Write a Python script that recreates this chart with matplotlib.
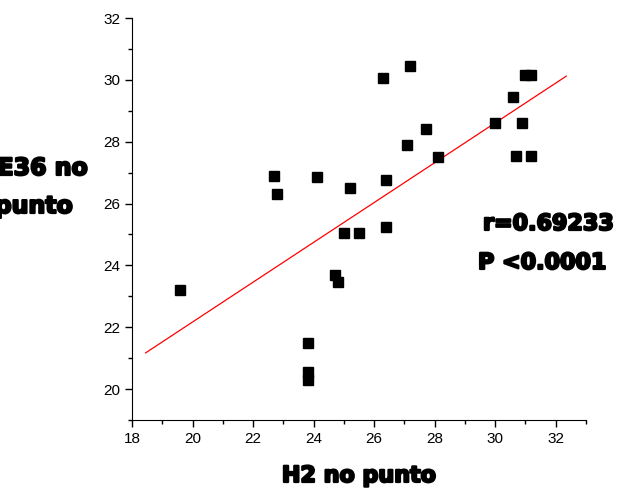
import numpy as np
import matplotlib
matplotlib.use("Agg")
import matplotlib.pyplot as plt
import matplotlib.patheffects as pe
from matplotlib.ticker import MultipleLocator

# data
h2 = [19.6, 22.7, 22.8, 24.1, 25.2, 26.4, 25.0, 25.5, 26.4, 26.3, 27.2,
      27.1, 27.7, 28.1, 30.0, 30.6, 30.9, 30.7, 31.2, 31.0, 31.2,
      24.7, 24.8, 23.8, 23.8, 23.8]
e36 = [23.2, 26.9, 26.3, 26.85, 26.5, 26.75, 25.05, 25.05, 25.25, 30.05, 30.45,
       27.9, 28.4, 27.5, 28.6, 29.45, 28.6, 27.55, 27.55, 30.15, 30.15,
       23.7, 23.45, 21.5, 20.55, 20.3]
fit_x = [18.45, 32.35]
fit_y = [21.17, 30.12]
r_text = "r=0.69233"
p_text = "P <0.0001"

# fake an "Arial Black" look: bold DejaVu with a stroke around it
heavy = dict(fontweight="bold", family="DejaVu Sans",
             path_effects=[pe.withStroke(linewidth=1.6, foreground="black")])


def main():
    fig = plt.figure(figsize=(6.19, 4.91), dpi=100)
    ax = fig.add_axes([0.2132, 0.1446, 0.7334, 0.8187])

    ax.plot(h2, e36, "s", color="black", markersize=6.5, zorder=3)
    ax.plot(fit_x, fit_y, color="red", linewidth=0.9)

    ax.set_xlim(18, 33)
    ax.set_ylim(19, 32)
    ax.xaxis.set_major_locator(MultipleLocator(2))
    ax.xaxis.set_minor_locator(MultipleLocator(1))
    ax.yaxis.set_major_locator(MultipleLocator(2))
    ax.yaxis.set_minor_locator(MultipleLocator(1))
    ax.spines["top"].set_visible(False)
    ax.spines["right"].set_visible(False)
    ax.tick_params(which="major", direction="out", length=5, width=1,
                   labelsize=11)
    ax.tick_params(which="minor", direction="out", length=3, width=1)
    for lab in ax.get_xticklabels() + ax.get_yticklabels():
        lab.set_fontfamily("Liberation Sans")

    fig.text(359 / 619, 1 - 476 / 491, "H2 no punto", ha="center", va="center",
             fontsize=16, **heavy)
    fig.text(88 / 619, 1 - 168 / 491, "E36 no", ha="right", va="center",
             fontsize=17, **heavy)
    fig.text(73 / 619, 1 - 206 / 491, "punto", ha="right", va="center",
             fontsize=17, **heavy)
    fig.text(483 / 619, 1 - 224 / 491, r_text, ha="left", va="center",
             fontsize=16, **heavy)
    fig.text(478 / 619, 1 - 263 / 491, p_text, ha="left", va="center",
             fontsize=16, **heavy)

    fig.savefig("out.png", dpi=100)


if __name__ == '__main__':
    main()
